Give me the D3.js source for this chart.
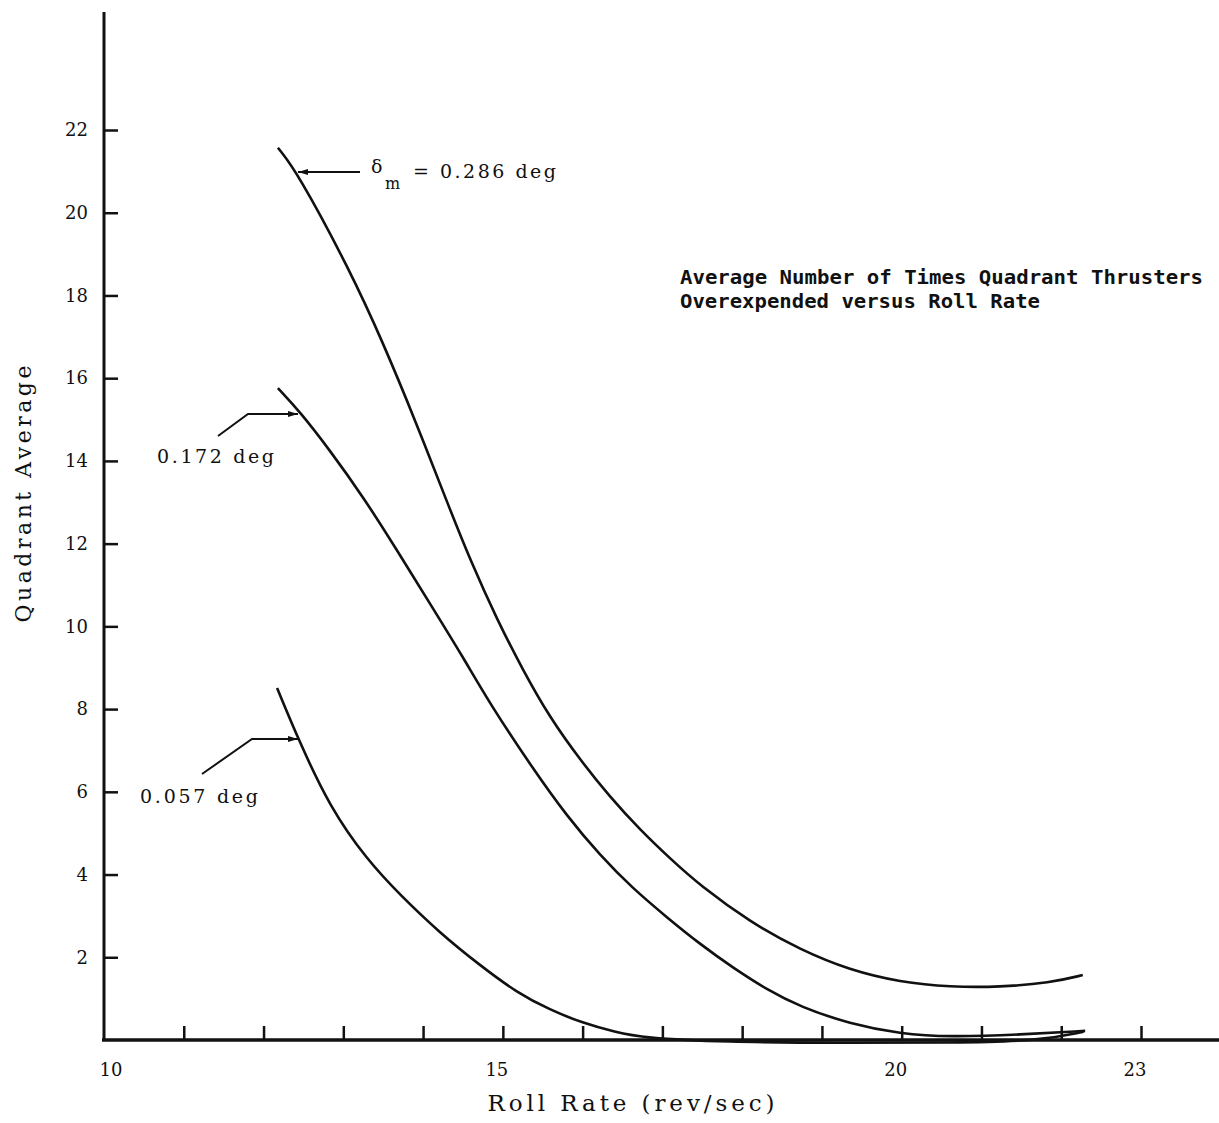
<!DOCTYPE html>
<html>
<head>
<meta charset="utf-8">
<script src="https://cdn.jsdelivr.net/npm/d3@7"></script>
<style>
  body { margin: 0; background: #fff; }
  text { font-family: "DejaVu Serif", "Liberation Serif", serif; fill: #111; }
</style>
</head>
<body>
<svg id="chart"></svg>
<script>
// values
var rollRate286 = [12.18, 12.42, 13.08, 13.50, 13.90, 14.34, 14.59, 14.93, 15.25, 15.59, 15.97, 16.34, 16.72, 17.10, 17.47, 18.10, 18.73, 19.35, 19.98, 20.61, 21.23, 21.86, 22.27];
var quad286     = [21.57, 20.99, 18.62, 16.85, 14.99, 12.81, 11.61, 10.15, 8.95, 7.79, 6.77, 5.88, 5.08, 4.38, 3.74, 2.85, 2.18, 1.69, 1.40, 1.28, 1.28, 1.38, 1.57];

var rollRate172 = [12.18, 12.46, 12.83, 13.25, 13.67, 14.09, 14.50, 14.84, 15.38, 15.80, 16.22, 16.63, 17.06, 17.47, 17.89, 18.31, 18.73, 19.35, 19.98, 20.60, 21.50, 22.30];
var quad172     = [15.76, 15.18, 14.26, 13.13, 11.85, 10.54, 9.26, 8.12, 6.55, 5.42, 4.46, 3.66, 2.96, 2.32, 1.74, 1.22, 0.80, 0.39, 0.15, 0.07, 0.13, 0.22];

var rollRate057 = [12.17, 12.44, 12.83, 13.30, 13.71, 14.21, 14.71, 15.18, 15.59, 16.00, 16.41, 16.76, 17.74, 19.36, 20.61, 21.74, 22.28];
var quad057     = [8.51, 7.25, 5.63, 4.35, 3.51, 2.59, 1.81, 1.14, 0.73, 0.41, 0.19, 0.05, -0.05, -0.07, -0.07, -0.02, 0.20];

var xTicks = [11, 12, 13, 14, 15, 16, 17, 18, 19, 20, 21, 22, 23];
var xTickLabels = [10, 15, 20, 23];
var yTicks = [2, 4, 6, 8, 10, 12, 14, 16, 18, 20, 22];

var width = 1219, height = 1123;
var svg = d3.select("#chart").attr("width", width).attr("height", height);

var x = d3.scaleLinear().domain([10, 23]).range([104, 1141]);
var y = d3.scaleLinear().domain([0, 22]).range([1040, 130]);

// axis lines
svg.append("line").attr("x1", x(10)).attr("x2", x(10)).attr("y1", 12).attr("y2", y(0))
  .attr("stroke", "#111").attr("stroke-width", 3);
svg.append("line").attr("x1", x(10) - 2).attr("x2", width).attr("y1", y(0)).attr("y2", y(0))
  .attr("stroke", "#111").attr("stroke-width", 3.5);

// x ticks point up into the plot
var xAxis = svg.append("g").attr("transform", "translate(0," + y(0) + ")")
  .call(d3.axisBottom(x).tickValues(xTicks).tickSize(-14).tickFormat(""));
xAxis.select(".domain").remove();
xAxis.selectAll("line").attr("stroke", "#111").attr("stroke-width", 2.5);

svg.selectAll(".xlab").data(xTickLabels).enter().append("text")
  .attr("class", "xlab")
  .attr("x", function(d) { return x(d) + (d == 10 ? 7 : -6); })
  .attr("y", 1076)
  .attr("text-anchor", "middle")
  .attr("font-size", 18)
  .text(function(d) { return d; });

var yAxis = svg.append("g").attr("transform", "translate(" + x(10) + ",0)")
  .call(d3.axisLeft(y).tickValues(yTicks).tickSize(-14).tickPadding(16));
yAxis.select(".domain").remove();
yAxis.selectAll("line").attr("stroke", "#111").attr("stroke-width", 2.5);
yAxis.selectAll("text").attr("font-size", 18)
  .style("font-family", "'DejaVu Serif', serif").attr("fill", "#111");

// curves
var line = d3.line()
  .x(function(d) { return x(d[0]); })
  .y(function(d) { return y(d[1]); })
  .curve(d3.curveBasis);

var series = [
  d3.zip(rollRate286, quad286),
  d3.zip(rollRate172, quad172),
  d3.zip(rollRate057, quad057)
];

svg.selectAll(".curve").data(series).enter().append("path")
  .attr("class", "curve")
  .attr("d", line)
  .attr("fill", "none")
  .attr("stroke", "#111")
  .attr("stroke-width", 2.6);

// arrow heads
var defs = svg.append("defs");
defs.append("marker").attr("id", "head")
  .attr("viewBox", "0 0 10 6").attr("refX", 10).attr("refY", 3)
  .attr("markerWidth", 13).attr("markerHeight", 6).attr("markerUnits", "userSpaceOnUse")
  .attr("orient", "auto")
  .append("path").attr("d", "M0,0 L10,3 L0,6 Z").attr("fill", "#111");

function leader(points) {
  svg.append("path")
    .attr("d", d3.line()(points))
    .attr("fill", "none").attr("stroke", "#111").attr("stroke-width", 2)
    .attr("marker-end", "url(#head)");
}

leader([[360, 172], [298, 172]]);
leader([[218, 436], [248, 414], [298, 414]]);
leader([[202, 774], [252, 739], [298, 739]]);

// labels
var lab = svg.append("text").attr("font-size", 19);
lab.append("tspan").attr("x", 371).attr("y", 173).text("δ");
lab.append("tspan").attr("x", 385).attr("y", 189).attr("font-size", 16).text("m");
svg.append("text").attr("x", 413).attr("y", 178).attr("font-size", 19)
  .attr("textLength", 143).attr("lengthAdjust", "spacing").text("= 0.286 deg");

svg.append("text").attr("x", 157).attr("y", 463).attr("font-size", 19)
  .attr("textLength", 117).attr("lengthAdjust", "spacing").text("0.172 deg");
svg.append("text").attr("x", 140).attr("y", 803).attr("font-size", 19)
  .attr("textLength", 118).attr("lengthAdjust", "spacing").text("0.057 deg");

svg.append("text").attr("x", 680).attr("y", 284).attr("font-size", 19)
  .style("font-family", "'DejaVu Sans Mono', monospace").attr("font-weight", "bold")
  .attr("textLength", 523).attr("lengthAdjust", "spacingAndGlyphs")
  .text("Average Number of Times Quadrant Thrusters");
svg.append("text").attr("x", 680).attr("y", 308).attr("font-size", 19)
  .style("font-family", "'DejaVu Sans Mono', monospace").attr("font-weight", "bold")
  .attr("textLength", 360).attr("lengthAdjust", "spacingAndGlyphs")
  .text("Overexpended versus Roll Rate");

svg.append("text").attr("x", 631).attr("y", 1111).attr("font-size", 23)
  .attr("text-anchor", "middle")
  .attr("textLength", 287).attr("lengthAdjust", "spacing")
  .text("Roll Rate (rev/sec)");

svg.append("text").attr("transform", "translate(31,494) rotate(-90)")
  .attr("font-size", 22).attr("text-anchor", "middle")
  .attr("textLength", 257).attr("lengthAdjust", "spacing")
  .text("Quadrant Average");
</script>
</body>
</html>
